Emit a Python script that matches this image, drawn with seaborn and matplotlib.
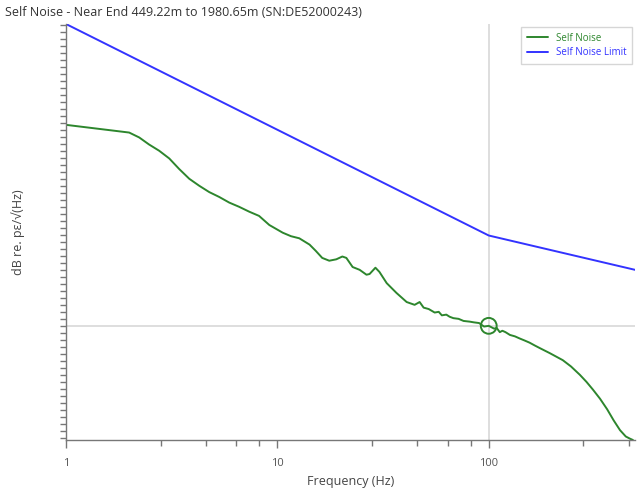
import numpy as np
import pandas as pd
import matplotlib
matplotlib.use("Agg")
import matplotlib.pyplot as plt
import matplotlib.ticker as mticker
import seaborn as sns

title = "Self Noise - Near End 449.22m to 1980.65m (SN:DE52000243)"

noise_freq = [1.0, 1.99, 2.22, 2.47, 2.76, 3.08, 3.43, 3.83, 4.27, 4.76, 5.31, 5.92, 6.59,
              7.36, 8.19, 9.16, 10.6, 11.6, 12.7, 14.2, 15.2,
              16.3, 17.6, 19.0, 20.3, 21.2, 22.7, 24.5, 26.4, 27.3, 29.1, 30.4, 32.9, 36.6,
              40.9, 44.6, 47.1, 49.2, 52.0, 55.5, 58.0, 60.0, 63.0, 65.3, 68.0, 72.0, 76.0,
              81.3, 85.0, 90.0, 95.0, 100.0, 103.0, 106.0, 109.0,
              112.8, 116.0, 120.0, 126.0, 133.0, 140.0, 148.0, 156.0, 165.0, 175.0, 194.5,
              224.0, 245.0, 270.0, 290.0, 311.0, 336.0, 363.0, 390.0, 418.0, 445.0, 465.0, 481.0]
noise_db = [-71.3, -72.4, -73.1, -74.1, -75.0, -76.1, -77.6, -79.0, -80.0, -80.9, -81.6, -82.4,
            -83.0, -83.7, -84.3, -85.6, -86.7, -87.2, -87.5, -88.4, -89.3,
            -90.3, -90.7, -90.5, -90.1, -90.3, -91.6, -92.0, -92.7, -92.6, -91.7, -92.3, -93.9,
            -95.3, -96.6, -97.0, -96.6, -97.4, -97.6, -98.1, -98.0, -98.5, -98.4, -98.7,
            -98.9, -99.0, -99.3, -99.4, -99.5, -99.6, -100.1, -100.0, -100.2, -100.4, -100.3,
            -100.9, -100.7, -100.9, -101.3, -101.5, -101.8, -102.1, -102.4, -102.8, -103.2,
            -103.9, -104.9, -105.8, -107.0, -108.0, -109.1, -110.4, -111.9, -113.5, -114.9,
            -115.8, -116.1, -116.3]

limit_freq = [1.0, 100.0, 492.0]
limit_db = [-56.9, -87.1, -92.0]

marker_freq = [100.0]
marker_db = [-100.0]

df = pd.concat([
    pd.DataFrame({"Frequency": noise_freq, "dB": noise_db, "Series": "Self Noise"}),
    pd.DataFrame({"Frequency": limit_freq, "dB": limit_db, "Series": "Self Noise Limit"}),
], ignore_index=True)

sns.set_style("white")
plt.rcParams["font.family"] = ["Open Sans", "DejaVu Sans"]

green = "#2d862d"
blue = "#3333ff"

fig = plt.figure(figsize=(6.4, 4.88), dpi=100)
ax = fig.add_axes([66/640, 48/488, (635-66)/640, (440-24)/488])

ax.axvline(100, color="#d8d8d8", lw=1.2, zorder=0)
ax.axhline(-100, color="#d8d8d8", lw=1.2, zorder=0)

sns.lineplot(data=df, x="Frequency", y="dB", hue="Series",
             palette={"Self Noise": green, "Self Noise Limit": blue},
             linewidth=1.4, ax=ax, sort=False, estimator=None)

ax.scatter(marker_freq, marker_db, s=130, facecolors="none", edgecolors=green,
           linewidths=1.4, zorder=5)

ax.set_xscale("log")
ax.set_xlim(1, 492)
ax.set_ylim(-116.3, -56.9)

ax.xaxis.set_major_locator(mticker.FixedLocator([1, 10, 100]))
ax.xaxis.set_major_formatter(mticker.FixedFormatter(["1", "10", "100"]))
ax.xaxis.set_minor_locator(mticker.FixedLocator([2.8, 4.6, 6.4, 8.2, 28, 46, 64, 82, 280, 460]))
ax.xaxis.set_minor_formatter(mticker.NullFormatter())

ax.yaxis.set_major_locator(mticker.MultipleLocator(1))
ax.yaxis.set_major_formatter(mticker.NullFormatter())

for s in ["top", "right"]:
    ax.spines[s].set_visible(False)
for s in ["left", "bottom"]:
    ax.spines[s].set_color("#777777")
    ax.spines[s].set_linewidth(1.0)

ax.tick_params(axis="x", which="major", length=6, width=1, color="#777777",
               labelsize=8, labelcolor="#555555", pad=7, bottom=True)
ax.tick_params(axis="x", which="minor", length=4, width=1, color="#777777", bottom=True)
ax.tick_params(axis="y", which="major", length=4, width=1, color="#777777", left=True)

ax.set_xlabel("Frequency (Hz)", fontsize=9, color="#444444", labelpad=4)
ax.set_ylabel("dB re. p\u03b5/\u221a(Hz)", fontsize=9, color="#444444", labelpad=22)

fig.text(5/640, 1 - 12/488, title, fontsize=9, color="#333333", va="center", ha="left")

leg = ax.legend(loc="upper right", bbox_to_anchor=(1.004, 1.005), fontsize=7,
                frameon=True, fancybox=False, edgecolor="#cccccc",
                handlelength=2.2, borderpad=0.6, labelspacing=0.35)
leg.set_title(None)
for txt, c in zip(leg.get_texts(), [green, blue]):
    txt.set_color(c)

fig.savefig("out.png", dpi=100)
